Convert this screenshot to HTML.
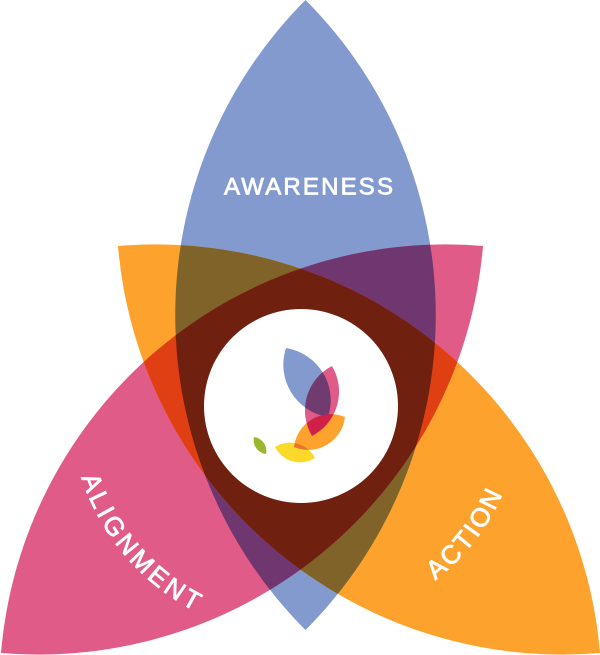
<!DOCTYPE html>
<html><head><meta charset="utf-8"><style>
html,body{margin:0;padding:0;background:#fff}
svg{display:block}
text{font-family:"Liberation Sans",sans-serif;fill:#fff;stroke:#fff;stroke-width:.8px;font-size:24px}
text.c{font-size:26px}
</style></head><body>
<svg width="600" height="655" viewBox="0 0 600 655" xmlns="http://www.w3.org/2000/svg">
<defs>
<path id="b" d="M305.500 0A446 446 0 0 0 305.500 630A446 446 0 0 0 305.500 0Z"/>
<path id="p" d="M1 653A446 446 0 0 1 483 246A446 446 0 0 1 1 653Z"/>
<path id="o" d="M118 246A446 446 0 0 1 600 653A446 446 0 0 1 118 246Z"/>
<clipPath id="cb"><use href="#b"/></clipPath>
<clipPath id="cp"><use href="#p"/></clipPath>
<clipPath id="co"><use href="#o"/></clipPath>
<path id="sb" d="M286 348A53 53 0 0 0 328 417A53 53 0 0 0 286 348Z"/>
<path id="sp" d="M332 366A50 50 0 0 0 312 436A50 50 0 0 0 332 366Z"/>
<path id="so" d="M345 417A37 37 0 0 1 294 447A37 37 0 0 1 345 417Z"/>
<path id="sy" d="M275 447A28 28 0 0 1 315 458A28 28 0 0 1 275 447Z"/>
<clipPath id="csb"><use href="#sb"/></clipPath>
<clipPath id="csp"><use href="#sp"/></clipPath>
<clipPath id="cso"><use href="#so"/></clipPath>
<path id="arcL" d="M81.300 477.400A231 231 0 0 0 301 637"/>
<path id="arcR" d="M435.200 580.300A220 220 0 0 0 521 406"/>
</defs>
<use href="#b" fill="#829acd"/>
<use href="#p" fill="#e05b87"/>
<use href="#o" fill="#fda32d"/>
<g clip-path="url(#cb)"><use href="#o" fill="#7f6328"/><use href="#p" fill="#70366f"/></g>
<g clip-path="url(#cp)"><use href="#o" fill="#e03f14"/></g>
<g clip-path="url(#cb)"><g clip-path="url(#cp)"><use href="#o" fill="#70200f"/></g></g>
<circle cx="301" cy="406" r="97" fill="#fff"/>
<use href="#sb" fill="#829acd"/>
<use href="#sp" fill="#e05b87"/>
<use href="#so" fill="#fda32d"/>
<g clip-path="url(#csb)"><use href="#sp" fill="#6f3b70"/></g>
<g clip-path="url(#csp)"><use href="#so" fill="#d0204a"/></g>
<use href="#sy" fill="#fdd92a"/>
<g clip-path="url(#cso)"><use href="#sy" fill="#e9742b"/></g>
<path d="M254 437A14 14 0 0 0 266 454A14 14 0 0 0 254 437Z" fill="#9bb52c"/>
<text x="224" y="194.700" textLength="169" lengthAdjust="spacing">AWARENESS</text>
<text class="c" letter-spacing="3.500"><textPath href="#arcL">ALIGNMENT</textPath></text>
<text class="c" letter-spacing="2.400"><textPath href="#arcR">ACTION</textPath></text>
</svg>
</body></html>
